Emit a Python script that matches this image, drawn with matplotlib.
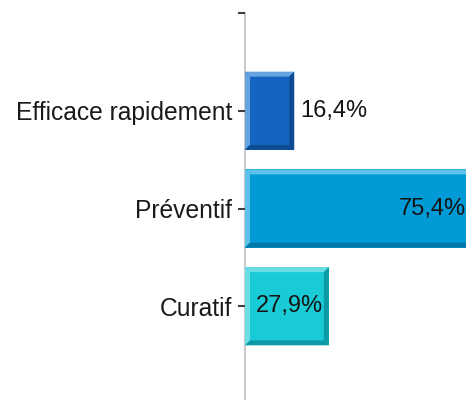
"""
Bar chart of treatment perception shares, drawn with bevelled horizontal bars.
"""

import matplotlib
matplotlib.use("Agg")

import matplotlib.pyplot as plt
from matplotlib.patches import Polygon


# ── Data ──────────────────────────────────────────────────────────────────────
categories = ["Efficace rapidement", "Préventif", "Curatif"]
values = [16.4, 75.4, 27.9]
value_labels = ["16,4%", "75,4%", "27,9%"]

# ── Palette (face, light bevel, dark bevel) ───────────────────────────────────
FACE = ["#1565C0", "#009BD6", "#19CBD6"]
LIGHT = ["#66A3DF", "#5EC1E9", "#6ADDE5"]
DARK = ["#0D4C94", "#0078A8", "#0C9BA6"]

FIG_W, FIG_H = 466, 400
AX_LEFT, AX_TOP, AX_BOTTOM = 245, 13, 404   # pixels
XMAX = 73.6
BEVEL_PX = 5
BAR_H = 0.8

plt.rcParams["font.family"] = ["Liberation Sans", "DejaVu Sans"]

fig = plt.figure(figsize=(FIG_W / 100, FIG_H / 100), dpi=100)
ax_w = FIG_W - AX_LEFT
ax_h = AX_BOTTOM - AX_TOP
ax = fig.add_axes([AX_LEFT / FIG_W, (FIG_H - AX_BOTTOM) / FIG_H,
                   ax_w / FIG_W, ax_h / FIG_H])

ax.set_xlim(0, XMAX)
ax.set_ylim(4, 0)

positions = list(range(1, len(categories) + 1))
ax.barh(positions, values, height=BAR_H, color=FACE, linewidth=0, zorder=2)

# bevel size in data units
bx = BEVEL_PX / (ax_w / XMAX)
by = BEVEL_PX / (ax_h / 4)

for p, v, light, dark in zip(positions, values, LIGHT, DARK):
    x0, x1 = 0, v
    yt, yb = p - BAR_H / 2, p + BAR_H / 2
    faces = [
        ([(x0, yt), (x1, yt), (x1 - bx, yt + by), (x0 + bx, yt + by)], light),
        ([(x0, yt), (x0 + bx, yt + by), (x0 + bx, yb - by), (x0, yb)], light),
        ([(x0, yb), (x0 + bx, yb - by), (x1 - bx, yb - by), (x1, yb)], dark),
        ([(x1, yt), (x1, yb), (x1 - bx, yb - by), (x1 - bx, yt + by)], dark),
    ]
    for pts, c in faces:
        ax.add_patch(Polygon(pts, closed=True, facecolor=c, edgecolor="none", zorder=3))

# value labels: inside (right aligned) when they fit, otherwise just past the bar
renderer = fig.canvas.get_renderer()
for p, v, lab in zip(positions, values, value_labels):
    t = ax.annotate(lab, xy=(v, p), xytext=(-6, 0), textcoords="offset pixels",
                    ha="right", va="center", fontsize=17, color="#151515",
                    zorder=4, annotation_clip=False)
    bar_px = v * ax_w / XMAX
    if t.get_window_extent(renderer).width + 12 > bar_px:
        t.set_ha("left")
        t.set_position((6, 0))

# axes styling
for side in ("top", "right", "bottom"):
    ax.spines[side].set_visible(False)
ax.spines["left"].set_color("#CCCCCC")
ax.spines["left"].set_linewidth(1.5)
ax.spines["left"].set_zorder(1)

ax.set_xticks([])
ax.set_yticks([0] + positions + [4])
ax.set_yticklabels([""] + categories + [""], fontsize=17.7, color="#1A1A1A")
ax.tick_params(axis="y", length=5, width=1.5, color="#404040", pad=4.3)

fig.savefig("out.png", dpi=100)
plt.close(fig)
